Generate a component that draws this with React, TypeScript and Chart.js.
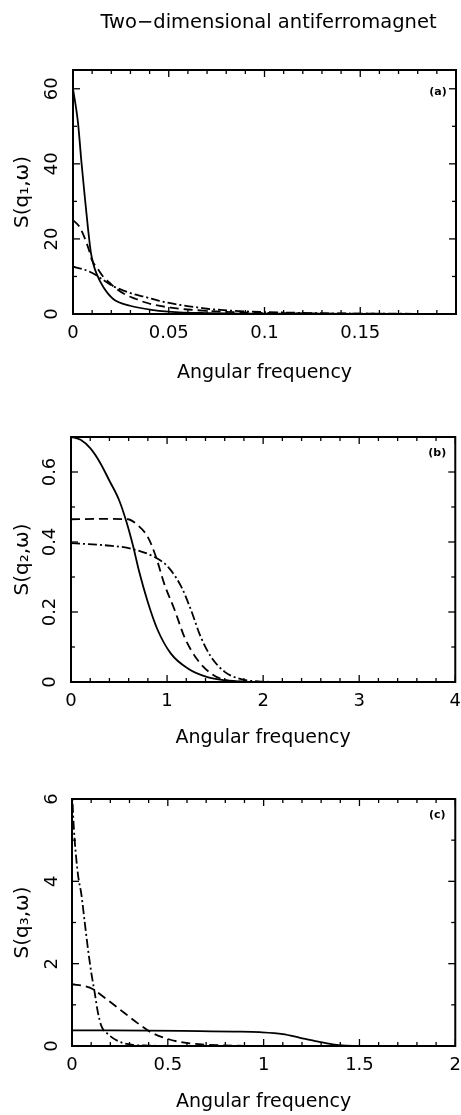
import React, { useEffect, useRef } from "react";
import { Chart, registerables } from "chart.js";

Chart.register(...registerables);

const FONT = "'DejaVu Sans', sans-serif";

const MAIN_TITLE = "Two−dimensional antiferromagnet";
const X_TITLE = "Angular frequency";

// ---------- Panel (a) ----------
const aSolidFreq = [0, 0.0026, 0.0044, 0.0061, 0.0079, 0.0093, 0.0108, 0.0124, 0.0159, 0.021, 0.0298, 0.042, 0.0555, 0.07, 0.09, 0.12, 0.16, 0.2];
const aSolidS = [60, 51, 40.5, 31.5, 22.5, 16.5, 13, 10.6, 7.1, 4.0, 2.2, 1.06, 0.45, 0.25, 0.12, 0.06, 0.03, 0.01];
const aDashFreq = [0, 0.003, 0.0055, 0.0085, 0.0098, 0.0131, 0.016, 0.019, 0.022, 0.028, 0.033, 0.037, 0.042, 0.051, 0.06, 0.075, 0.09, 0.11, 0.14, 0.2];
const aDashS = [25, 23.5, 21, 16.8, 14.5, 11.9, 9.8, 8.4, 7.0, 5.0, 4.0, 3.2, 2.5, 1.7, 1.2, 0.7, 0.4, 0.2, 0.1, 0.02];
const aDotFreq = [0, 0.0054, 0.0106, 0.016, 0.021, 0.026, 0.031, 0.038, 0.045, 0.056, 0.063, 0.07, 0.077, 0.09, 0.11, 0.14, 0.2];
const aDotS = [12.6, 11.9, 10.8, 9.0, 7.4, 6.3, 5.4, 4.5, 3.5, 2.4, 1.9, 1.4, 1.1, 0.7, 0.4, 0.15, 0.03];
const aXLabels = [0, 0.05, 0.1, 0.15];
const aYLabels = [0, 20, 40, 60];

// ---------- Panel (b) ----------
const bSolidFreq = [0, 0.1, 0.2, 0.3, 0.4, 0.5, 0.58, 0.645, 0.71, 0.8, 0.9, 1.04, 1.22, 1.42, 1.6, 1.8, 2.1, 4];
const bSolidS = [0.7, 0.692, 0.668, 0.628, 0.575, 0.52, 0.455, 0.39, 0.315, 0.228, 0.15, 0.081, 0.038, 0.014, 0.005, 0.001, 0, 0];
const bDashFreq = [0, 0.3, 0.59, 0.695, 0.8, 0.885, 0.97, 1.08, 1.18, 1.32, 1.46, 1.6, 1.8, 2.1, 4];
const bDashS = [0.465, 0.466, 0.465, 0.448, 0.414, 0.357, 0.281, 0.205, 0.129, 0.062, 0.024, 0.006, 0.001, 0, 0];
const bDotFreq = [0, 0.38, 0.625, 0.87, 1.01, 1.15, 1.25, 1.35, 1.46, 1.6, 1.77, 1.95, 2.3, 4];
const bDotS = [0.397, 0.39, 0.381, 0.357, 0.329, 0.271, 0.205, 0.129, 0.071, 0.029, 0.008, 0.002, 0, 0];
const bXLabels = [0, 1, 2, 3, 4];
const bYLabels = [0, 0.2, 0.4, 0.6];

// ---------- Panel (c) ----------
const cSolidFreq = [0, 0.2, 0.4, 0.667, 0.85, 0.98, 1.1, 1.19, 1.27, 1.36, 1.43, 1.5, 2];
const cSolidS = [0.38, 0.38, 0.375, 0.36, 0.35, 0.335, 0.29, 0.2, 0.12, 0.04, 0.01, 0, 0];
const cDashFreq = [0, 0.07, 0.11, 0.14, 0.2, 0.274, 0.344, 0.413, 0.5, 0.587, 0.71, 0.9, 2];
const cDashS = [1.5, 1.45, 1.38, 1.28, 1.07, 0.8, 0.55, 0.33, 0.17, 0.08, 0.03, 0.005, 0];
const cDotFreq = [0, 0.006, 0.014, 0.031, 0.049, 0.066, 0.083, 0.1, 0.118, 0.135, 0.153, 0.1875, 0.24, 0.31, 0.4, 0.5, 2];
const cDotS = [6.3, 5.6, 5.0, 4.17, 3.68, 3.02, 2.37, 1.8, 1.31, 0.82, 0.49, 0.29, 0.12, 0.03, 0.01, 0, 0];
const cXLabels = [0, 0.5, 1, 1.5, 2];
const cYLabels = [0, 2, 4, 6];

const pts = (xs: number[], ys: number[]) => xs.map((x, i) => ({ x, y: ys[i] }));
const has = (list: number[], v: number) => list.some((l) => Math.abs(l - v) < 1e-9);

const framePlugin = {
  id: "frame",
  afterDatasetsDraw(chart: any, _args: any, opts: any) {
    const { ctx, chartArea } = chart;
    const { left, right, top, bottom } = chartArea;
    const xs = chart.scales.x;
    const ys = chart.scales.y;
    ctx.save();
    ctx.strokeStyle = "#000";
    ctx.fillStyle = "#000";
    ctx.lineWidth = 1.3;
    const line = (x1: number, y1: number, x2: number, y2: number) => {
      ctx.beginPath();
      ctx.moveTo(x1, y1);
      ctx.lineTo(x2, y2);
      ctx.stroke();
    };
    for (const t of xs.ticks) {
      const p = xs.getPixelForValue(t.value);
      const len = has(opts.xMajor, t.value) ? 7 : 4;
      line(p, bottom, p, bottom - len);
      line(p, top, p, top + len);
    }
    for (const t of ys.ticks) {
      const p = ys.getPixelForValue(t.value);
      const len = has(opts.yLabels, t.value) ? 7 : 4;
      line(left, p, left + len, p);
      line(right, p, right - len, p);
    }
    ctx.lineWidth = 2;
    ctx.strokeRect(left, top, right - left, bottom - top);

    // rotated y tick labels
    ctx.font = `18px ${FONT}`;
    ctx.textAlign = "center";
    ctx.textBaseline = "middle";
    for (const v of opts.yLabels) {
      const p = ys.getPixelForValue(v);
      ctx.save();
      ctx.translate(opts.yLabelX, p);
      ctx.rotate(-Math.PI / 2);
      ctx.fillText(String(v), 0, 0);
      ctx.restore();
    }
    // panel tag
    ctx.font = `bold 11px ${FONT}`;
    ctx.fillText(opts.tag, right - 18, top + opts.tagDy);
    // main title
    if (opts.title) {
      ctx.font = `19.5px ${FONT}`;
      ctx.fillText(opts.title, (left + right) / 2 + 4, 23);
    }
    ctx.restore();
  },
};

type PanelDef = {
  height: number;
  padTop: number;
  yWidth: number;
  xHeight: number;
  xTitlePad: number;
  xMin: number;
  xMax: number;
  xStep: number;
  xLabels: number[];
  xMajor: number[];
  yMin: number;
  yMax: number;
  yStep: number;
  yLabels: number[];
  yLabelX: number;
  yTitle: string;
  tag: string;
  tagDy: number;
  title?: string;
  series: { x: number[]; y: number[]; dash: number[] }[];
};

function makeConfig(d: PanelDef): any {
  return {
    type: "line",
    data: {
      datasets: d.series.map((s) => ({
        data: pts(s.x, s.y),
        borderColor: "#000",
        borderWidth: 1.8,
        borderDash: s.dash,
        pointRadius: 0,
        fill: false,
        cubicInterpolationMode: "monotone",
      })),
    },
    options: {
      animation: false,
      responsive: false,
      maintainAspectRatio: false,
      events: [],
      layout: { padding: { top: d.padTop, right: 5, left: 0, bottom: 0 } },
      plugins: {
        legend: { display: false },
        tooltip: { enabled: false },
        frame: {
          xMajor: d.xMajor,
          yLabels: d.yLabels,
          yLabelX: d.yLabelX,
          tag: d.tag,
          tagDy: d.tagDy,
          title: d.title,
        },
      },
      scales: {
        x: {
          type: "linear",
          min: d.xMin,
          max: d.xMax,
          grid: { display: false, drawTicks: false },
          border: { display: false },
          ticks: {
            stepSize: d.xStep,
            includeBounds: false,
            autoSkip: false,
            maxRotation: 0,
            minRotation: 0,
            padding: 0,
            color: "#000",
            font: { family: FONT, size: 18, lineHeight: 2.2 },
            callback: (v: any) => (has(d.xLabels, Number(v)) ? String(Number(v)) : ""),
          },
          title: {
            display: true,
            text: X_TITLE,
            color: "#000",
            font: { family: FONT, size: 19 },
            padding: { top: 0, bottom: d.xTitlePad },
          },
          afterFit: (s: any) => {
            s.height = d.xHeight;
          },
        },
        y: {
          type: "linear",
          min: d.yMin,
          max: d.yMax,
          grid: { display: false, drawTicks: false },
          border: { display: false },
          ticks: { display: false, stepSize: d.yStep, includeBounds: false },
          title: {
            display: true,
            text: d.yTitle,
            color: "#000",
            font: { family: FONT, size: 20 },
            padding: { top: 11, bottom: 0 },
          },
          afterFit: (s: any) => {
            s.width = d.yWidth;
          },
        },
      },
    },
    plugins: [framePlugin],
  };
}

const DASH = [9, 5];
const DASHDOT = [9, 3, 2, 3];

const panels: { top: number; def: PanelDef }[] = [
  {
    top: 0,
    def: {
      height: 395, padTop: 70, yWidth: 73, xHeight: 81, xTitlePad: 11,
      xMin: 0, xMax: 0.2, xStep: 0.01, xLabels: aXLabels, xMajor: [0, 0.05, 0.1, 0.15, 0.2],
      yMin: 0, yMax: 65, yStep: 10, yLabels: aYLabels, yLabelX: 52,
      yTitle: "S(q₁,ω)", tag: "(a)", tagDy: 22, title: MAIN_TITLE,
      series: [
        { x: aSolidFreq, y: aSolidS, dash: [] },
        { x: aDashFreq, y: aDashS, dash: DASH },
        { x: aDotFreq, y: aDotS, dash: DASHDOT },
      ],
    },
  },
  {
    top: 395,
    def: {
      height: 365, padTop: 42, yWidth: 71, xHeight: 78, xTitlePad: 10.5,
      xMin: 0, xMax: 4, xStep: 0.2, xLabels: bXLabels, xMajor: bXLabels,
      yMin: 0, yMax: 0.7, yStep: 0.1, yLabels: bYLabels, yLabelX: 50,
      yTitle: "S(q₂,ω)", tag: "(b)", tagDy: 16,
      series: [
        { x: bSolidFreq, y: bSolidS, dash: [] },
        { x: bDashFreq, y: bDashS, dash: DASH },
        { x: bDotFreq, y: bDotS, dash: DASHDOT },
      ],
    },
  },
  {
    top: 760,
    def: {
      height: 355, padTop: 39, yWidth: 72, xHeight: 69, xTitlePad: 2,
      xMin: 0, xMax: 2, xStep: 0.1, xLabels: cXLabels, xMajor: cXLabels,
      yMin: 0, yMax: 6, yStep: 1, yLabels: cYLabels, yLabelX: 52,
      yTitle: "S(q₃,ω)", tag: "(c)", tagDy: 16,
      series: [
        { x: cSolidFreq, y: cSolidS, dash: [] },
        { x: cDashFreq, y: cDashS, dash: DASH },
        { x: cDotFreq, y: cDotS, dash: DASHDOT },
      ],
    },
  },
];

function Panel({ top, def }: { top: number; def: PanelDef }) {
  const ref = useRef<HTMLCanvasElement | null>(null);
  useEffect(() => {
    if (!ref.current) return;
    const chart = new Chart(ref.current, makeConfig(def));
    return () => chart.destroy();
  }, []);
  return (
    <canvas
      ref={ref}
      width={461}
      height={def.height}
      style={{ position: "absolute", left: 0, top, width: 461, height: def.height, display: "block" }}
    />
  );
}

export default function App() {
  return (
    <div style={{ position: "absolute", left: 0, top: 0, width: 461, height: 1115, background: "#fff" }}>
      {panels.map((p, i) => (
        <Panel key={i} top={p.top} def={p.def} />
      ))}
    </div>
  );
}
